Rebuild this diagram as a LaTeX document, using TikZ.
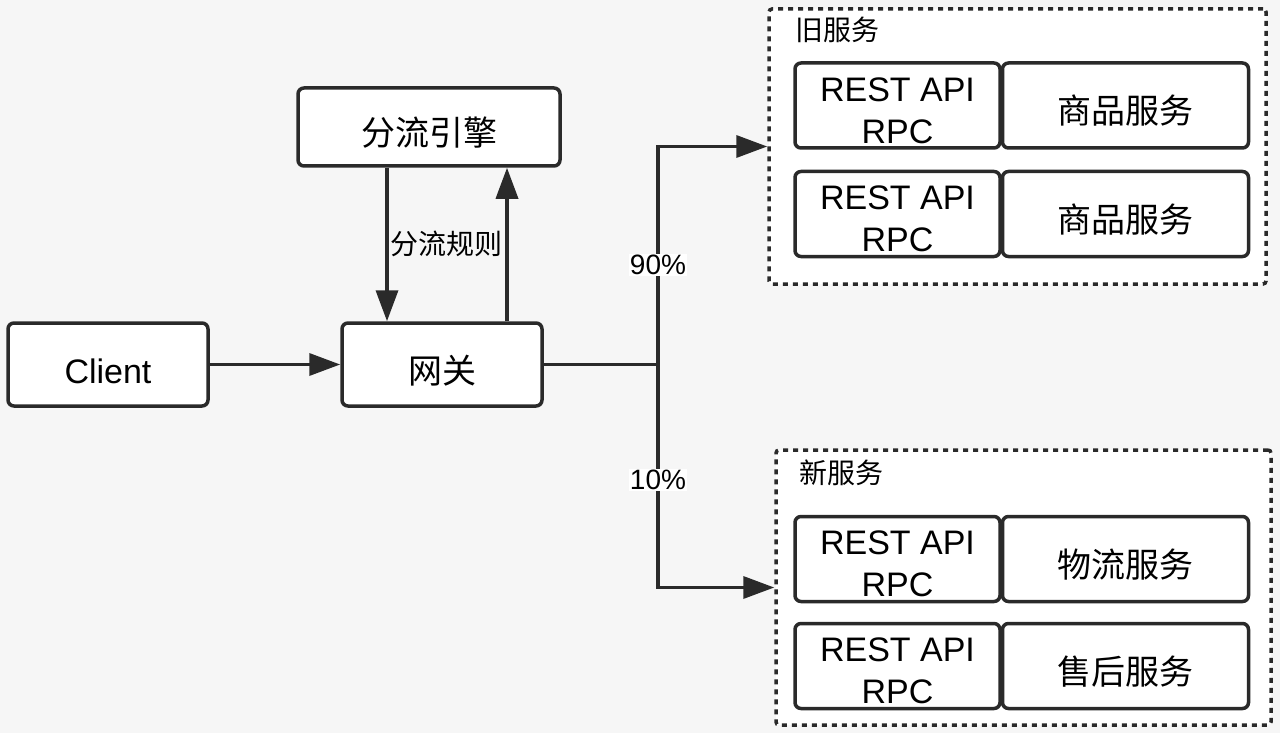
\documentclass[tikz,border=0pt]{standalone}
\usepackage{fontspec}
\setmainfont{Liberation Sans}
\newfontfamily\cjk{Noto Sans CJK SC}
\usepackage{tikz}
\usetikzlibrary{arrows.meta,positioning}
\definecolor{bg}{HTML}{F6F6F6}
\definecolor{ink}{HTML}{2A2A2A}
\tikzset{base/.style={
    draw=ink, line width=3.5pt, rounded corners=6pt, fill=white,
    inner sep=0pt, font=\fontsize{34}{42}\selectfont
  },
  block/.style={base,
    minimum width=#1, minimum height=83pt,
    text height=38pt, text depth=1pt
  },
  block/.default=200pt,
  apibox/.style={base, minimum width=205pt, minimum height=85pt, align=center},
  svcbox/.style={block=246pt, minimum height=85pt},
  group/.style={
    draw=ink, line width=3.5pt, dash pattern=on 5pt off 5pt,
    rounded corners=3pt, fill=white, inner sep=0pt,
    minimum width=#1, minimum height=275pt
  },
  tag/.style={font=\fontsize{28}{30}\selectfont, inner sep=1pt},
  link/.style={draw=ink, line width=3.5pt},
  flow/.style={link, -{Triangle[length=31pt,width=22pt]}}
}
\newcommand{\apitext}{\rule{0pt}{34pt}REST API\\RPC}

\begin{document}
\begin{tikzpicture}[x=1pt,y=-1pt]
    \fill[bg] (0,0) rectangle (1280,733);
    \node[block] (client) at (108,364.5) {Client};
    \node[block] (gw) at (442,364.5) {\cjk 网关};
    \node[block=262pt, minimum height=78pt] (eng) at (429,127) {\cjk 分流引擎};
    \node[group=497pt] (old) at (1017.5,146.5) {};
    \node[group=495pt] (new) at (1023.5,587.5) {};
    \node[tag, anchor=west] (oldtag) at (794,30) {\cjk 旧服务};
    \node[tag, anchor=west] (newtag) at (798,473) {\cjk 新服务};
    \node[apibox] (api1) at (897.5,105.5) {\apitext};
    \node[svcbox, right=-1pt of api1] (svc1) {\cjk 商品服务};
    \node[apibox] (api2) at (897.5,214) {\apitext};
    \node[svcbox, right=-1pt of api2] (svc2) {\cjk 商品服务};
    \node[apibox] (api3) at (897.5,559) {\apitext};
    \node[svcbox, right=-1pt of api3] (svc3) {\cjk 物流服务};
    \node[apibox] (api4) at (897.5,666) {\apitext};
    \node[svcbox, right=-1pt of api4] (svc4) {\cjk 售后服务};
    \coordinate (split) at (658,364.5);
    \draw[flow] (client) -- (gw);
    \draw[flow] ([xshift=-42pt]eng.south) -- ([xshift=-42pt]eng.south |- gw.north);
    \draw[flow] ([xshift=65pt]gw.north) -- ([xshift=65pt]gw.north |- eng.south);
    \node[tag] (rule) at (446,244) {\cjk 分流规则};
    \draw[link] (gw) -- (split);
    \draw[flow] (split) |- (old);
    \draw[flow] (split) |- (new);
    \node[tag, fill=white] (p90) at (658,265) {90\%};
    \node[tag, fill=white] (p10) at (658,480) {10\%};
\end{tikzpicture}
\end{document}
